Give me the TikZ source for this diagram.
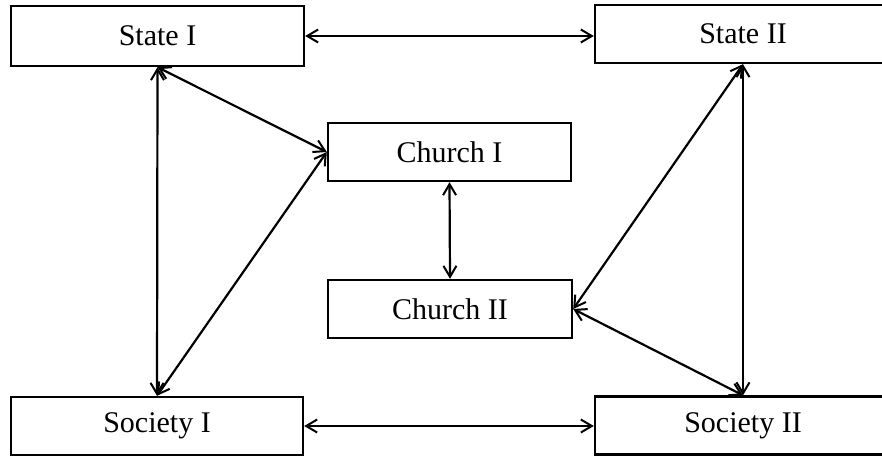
\documentclass[tikz,border=0pt]{standalone}
\usepackage{fontspec}
\setmainfont{Liberation Serif}
\usetikzlibrary{arrows.meta}
\begin{document}
\begin{tikzpicture}[x=1pt,y=-1pt,
  box/.style={draw, line width=2.4pt, minimum height=58pt, inner sep=0pt,
    font=\fontsize{30}{34}\selectfont},
  tip/.style={Straight Barb[length=11pt,width=13pt,line width=2pt]},
  link/.style={line width=2.2pt, {Straight Barb[length=11pt,width=13pt,line width=2pt]}-{Straight Barb[length=11pt,width=13pt,line width=2pt]}}]
\useasboundingbox (0,0) rectangle (882,457);
\clip (0,0) rectangle (882,457);
\fill[white] (0,0) rectangle (882,457);
\node[box, minimum width=293pt, minimum height=60pt] (s1) at (157.5,36) {State I};
\node[box, minimum width=296pt] (s2) at (743,34) {State II};
\node[box, minimum width=243pt] (c1) at (449.5,152) {Church I};
\node[box, minimum width=244pt] (c2) at (450,309) {Church II};
\node[box, minimum width=292pt] (y1) at (157,426) {Society I};
\node[box, minimum width=296pt] (y2) at (743,425.5) {Society II};
\draw[link] (s1.east) -- (s2.west |- s1.east);
\draw[link] (y1.east) -- (y2.west |- y1.east);
\draw[link] (s1.south) -- (y1.north);
\draw[link] (s1.south) -- (c1.west);
\draw[link] (c1.west) -- (y1.north);
\draw[link] (c1.south) -- (c2.north);
\draw[link] (s2.south) -- (y2.north);
\draw[link] (s2.south) -- (c2.east);
\draw[link] (c2.east) -- (y2.north);
\end{tikzpicture}
\end{document}
